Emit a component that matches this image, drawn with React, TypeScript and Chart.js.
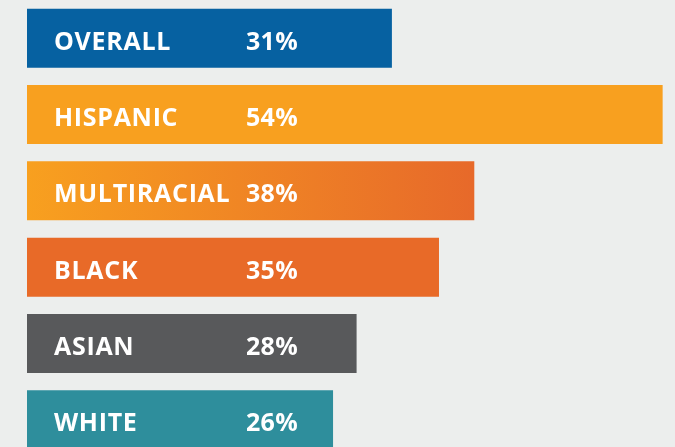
import React, { useEffect, useRef } from "react";
import { Chart, registerables } from "chart.js";

Chart.register(...registerables);

const categories = ["OVERALL", "HISPANIC", "MULTIRACIAL", "BLACK", "ASIAN", "WHITE"];
const values = [31, 54, 38, 35, 28, 26];
const valueLabels = ["31%", "54%", "38%", "35%", "28%", "26%"];
const colors = ["#0661a1", "#f8a01f", "gradient", "#e86a28", "#58595b", "#2e8e9c"];
const gradientStops = ["#f8a01f", "#e7692a"];

export default function App() {
  const ref = useRef<HTMLCanvasElement | null>(null);

  useEffect(() => {
    document.body.style.margin = "0";
    document.body.style.background = "#eceeed";
    const canvas = ref.current!;
    const bgPlugin = {
      id: "bg",
      beforeDraw(chart: any) {
        const ctx = chart.ctx;
        ctx.save();
        ctx.fillStyle = "#eceeed";
        ctx.fillRect(0, 0, chart.width, chart.height);
        ctx.restore();
      },
    };
    const labelPlugin = {
      id: "labels",
      afterDatasetsDraw(chart: any) {
        const ctx = chart.ctx;
        const meta = chart.getDatasetMeta(0);
        ctx.save();
        ctx.fillStyle = "#ffffff";
        ctx.font = "bold 25px 'Open Sans'";
        ctx.textAlign = "left";
        ctx.textBaseline = "alphabetic";
        meta.data.forEach((bar: any, i: number) => {
          const base = bar.base;
          (ctx as any).letterSpacing = "0.7px";
          ctx.fillText(categories[i], base + 27, bar.y + 11.5);
          (ctx as any).letterSpacing = "0.3px";
          ctx.fillText(valueLabels[i], base + 219, bar.y + 11.5);
        });
        ctx.restore();
      },
    };
    const chart = new Chart(canvas, {
      type: "bar",
      data: {
        labels: categories,
        datasets: [
          {
            data: values,
            backgroundColor: (c: any) => {
              const col = colors[c.dataIndex];
              if (col !== "gradient") return col;
              const ch = c.chart;
              const xs = ch.scales.x;
              if (!xs) return gradientStops[0];
              const x0 = xs.getPixelForValue(0);
              const x1 = xs.getPixelForValue(values[c.dataIndex]);
              const g = ch.ctx.createLinearGradient(x0, 0, x1, 0);
              g.addColorStop(0, gradientStops[0]);
              g.addColorStop(1, gradientStops[1]);
              return g;
            },
            borderWidth: 0,
            barPercentage: 0.773,
            categoryPercentage: 1,
          },
        ],
      },
      options: {
        indexAxis: "y",
        responsive: false,
        animation: false,
        layout: { padding: { left: 27, right: 0, top: 0, bottom: 0 } },
        scales: {
          x: { display: false, min: 0, max: 55.05 },
          y: { display: false },
        },
        plugins: {
          legend: { display: false },
          tooltip: { enabled: false },
        },
      },
      plugins: [bgPlugin, labelPlugin],
    });
    return () => chart.destroy();
  }, []);

  return (
    <div style={{ position: "fixed", left: 0, top: 0, width: 675, height: 458, background: "#eceeed" }}>
      <canvas ref={ref} width={675} height={458} style={{ display: "block" }} />
    </div>
  );
}
